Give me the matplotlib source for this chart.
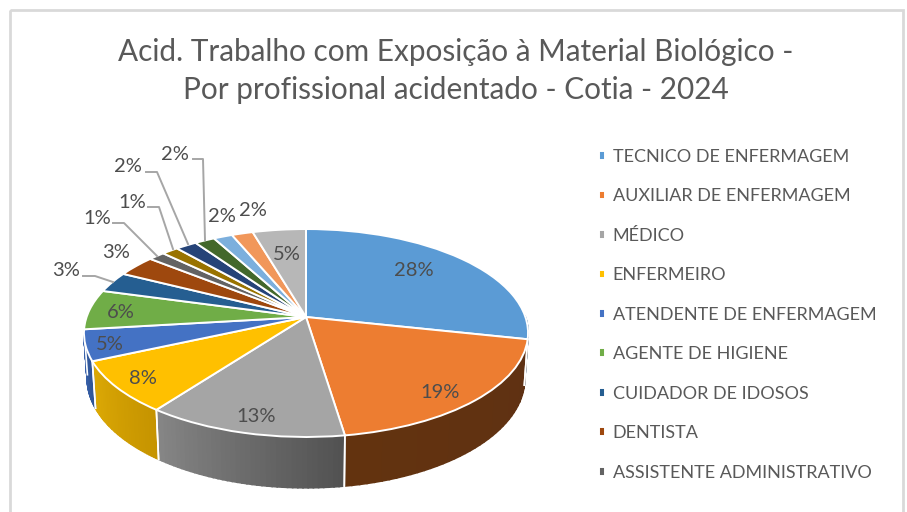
import numpy as np
import matplotlib
matplotlib.use('Agg')
import matplotlib.pyplot as plt
from matplotlib.patches import Rectangle
from matplotlib.path import Path
from matplotlib.transforms import Transform

titulo = 'Acid. Trabalho com Exposição à Material Biológico -\nPor profissional acidentado - Cotia - 2024'

# so as 9 primeiras categorias aparecem na legenda, o resto esta cortado
categorias = ['TECNICO DE ENFERMAGEM', 'AUXILIAR DE ENFERMAGEM', 'MÉDICO', 'ENFERMEIRO',
              'ATENDENTE DE ENFERMAGEM', 'AGENTE DE HIGIENE', 'CUIDADOR DE IDOSOS',
              'DENTISTA', 'ASSISTENTE ADMINISTRATIVO']
valores = [28.4, 19.2, 12.6, 8.1, 4.8, 6.2, 3.2, 3.3, 1.4, 1.4, 1.8, 1.7, 1.6, 1.8, 4.5]
rotulos = ['28%', '19%', '13%', '8%', '5%', '6%', '3%', '3%', '1%', '1%', '2%', '2%', '2%', '2%', '5%']
cores = ['#5B9BD5', '#ED7D31', '#A5A5A5', '#FFC000', '#4472C4', '#70AD47', '#255E91', '#9E480E',
         '#636363', '#997300', '#264478', '#43682B', '#7CAFDD', '#F1975A', '#B7B7B7']

# parede lateral: cor no lado direito e no lado esquerdo de cada fatia
parede_dir = ['#2F5F8A', '#5F3113', '#525252', '#C69400', '#2F5597']
parede_esq = ['#2F5F8A', '#63330F', '#868686', '#DDAA05', '#3F6AB8']

# layout em pixels da imagem
CX, CY = 306, 317
A, B, K = 219.4, 101.5, 0.154
pos_rotulos = [(414, 270), (440, 392), (256, 416), (143, 379), (110, 344), (121, 313), (66, 270),
               (116, 253), (97, 218), (132, 202), (128, 167), (175, 154), (222, 216), (253, 210),
               (287, 254)]
guias = [([83, 95, 113], [276, 276, 282]),
         ([113, 124, 157], [223, 223, 256]),
         ([148, 159, 173], [207, 207, 249]),
         ([146, 157, 188], [172, 172, 244]),
         ([193, 203, 205], [159, 159, 240])]


def projeta(x, y):
    w = 1 + K * y
    return A * x / w, B * y / w


class Perspectiva(Transform):
    input_dims = 2
    output_dims = 2
    has_inverse = False

    def transform_non_affine(self, values):
        px, py = projeta(values[:, 0], values[:, 1])
        return np.column_stack([CX + px, CY - py])

    def transform_path_non_affine(self, path):
        return Path(self.transform_non_affine(path.vertices), path.codes)


def mistura(c1, c2, f):
    a = np.array(matplotlib.colors.to_rgb(c1))
    b = np.array(matplotlib.colors.to_rgb(c2))
    return a + (b - a) * f


def arco(t):
    px, py = projeta(np.cos(t), np.sin(t))
    return CX + px, CY - py, CX + 0.985 * px, CY - (1.05 * py - 44.8)


if __name__ == '__main__':
    plt.rcParams['font.family'] = ['Lato', 'DejaVu Sans']
    fig = plt.figure(figsize=(9.07, 5.12), dpi=100)
    ax = fig.add_axes([0, 0, 1, 1])

    wedges, _ = ax.pie(valores, colors=cores, startangle=90, counterclock=False,
                       wedgeprops={'edgecolor': 'white', 'linewidth': 1.4, 'zorder': 3})
    perspectiva = Perspectiva()
    for w in wedges:
        w.set_transform(perspectiva + ax.transData)
        w.set_clip_on(False)

    ax.set_aspect('auto')
    ax.set_xlim(0, 907)
    ax.set_ylim(512, 0)
    ax.axis('off')

    # paredes da pizza
    for w, c_dir, c_esq in zip(wedges, parede_dir, parede_esq):
        t1, t2 = np.radians(w.theta1), np.radians(w.theta2)
        ts = np.linspace(t1, t2, 40)
        ts = ts[np.sin(ts) < 0.05]
        if len(ts) < 2:
            continue
        for i in range(len(ts) - 1):
            xa, ya, xb, yb = arco(ts[i:i + 2])
            cor = mistura(c_esq, c_dir, i / (len(ts) - 2))
            ax.fill([xa[0], xa[1], xb[1], xb[0]], [ya[0], ya[1], yb[1], yb[0]],
                    color=cor, linewidth=1.2, zorder=1)
        xa, ya, xb, yb = arco(np.array([t1, t2]))
        ax.plot([xa[0], xb[0]], [ya[0], yb[0]], color='white', lw=1.2, zorder=2)
        ax.plot([xa[1], xb[1]], [ya[1], yb[1]], color='white', lw=1.2, zorder=2)

    for r, (x, y) in zip(rotulos, pos_rotulos):
        ax.text(x, y, r, ha='center', va='center', fontsize=14.5, color='#4D4D4D', zorder=5)
    for xs, ys in guias:
        ax.plot(xs, ys, color='#A6A6A6', lw=1.4, zorder=4)

    ax.add_patch(Rectangle((10, 10), 893, 520, fill=False, edgecolor='#D9D9D9', lw=2, zorder=0))

    ax.text(456, 71, titulo, ha='center', va='center', fontsize=21.4, color='#595959',
            linespacing=1.44)

    ax.legend(wedges[:len(categorias)], categorias, loc='upper left', bbox_to_anchor=(0.660, 0.709),
              bbox_transform=ax.transAxes, frameon=False, fontsize=13, labelcolor='#595959',
              handlelength=0.38, handleheight=0.38, handletextpad=0.39, labelspacing=1.30,
              borderpad=0, borderaxespad=0)

    fig.savefig('out.png', dpi=100)
